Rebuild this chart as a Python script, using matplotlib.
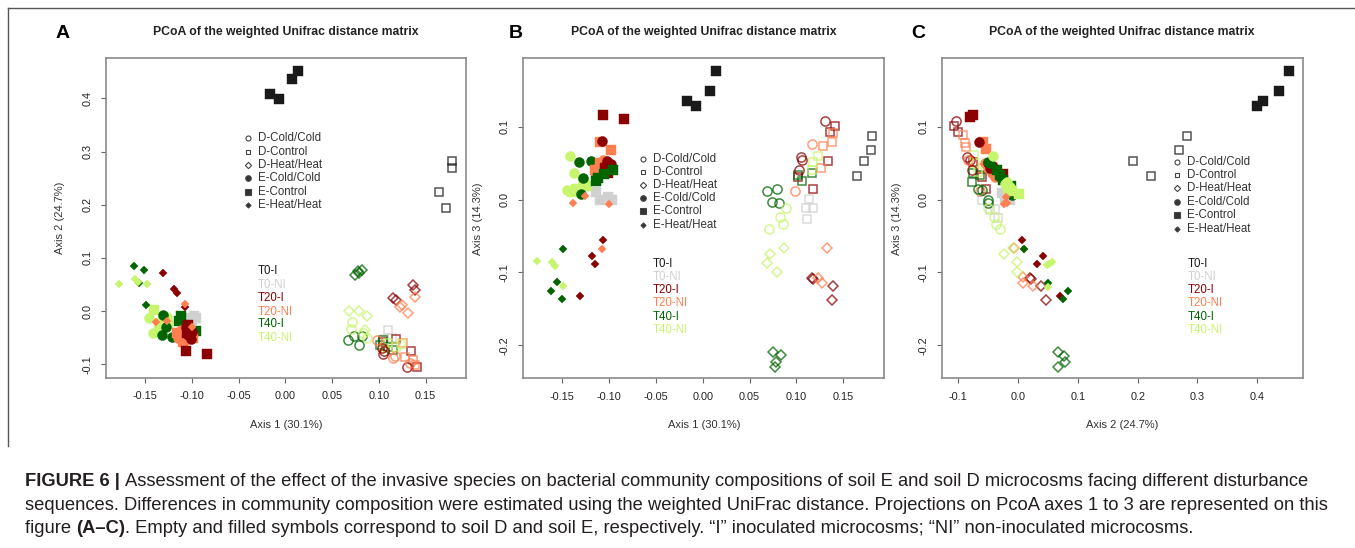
import matplotlib
matplotlib.use("Agg")
import matplotlib.pyplot as plt
from matplotlib.lines import Line2D
from matplotlib.ticker import FormatStrFormatter

W, H, DPI = 1355, 548, 100
plt.rcParams['font.family'] = ['Liberation Sans', 'DejaVu Sans']

# ---------------- categories ----------------
TIMES = ["T0-I", "T0-NI", "T20-I", "T20-NI", "T40-I", "T40-NI"]
TIME_COLORS = ["#1a1a1a", "#d0d0d0", "#8b0000", "#ff7f50", "#006400", "#c8f56e"]
TREATMENTS = ["D-Cold/Cold", "D-Control", "D-Heat/Heat", "E-Cold/Cold", "E-Control", "E-Heat/Heat"]
TITLE = "PCoA of the weighted Unifrac distance matrix"

# ---------------- data: (treatment, time, x values, y values) ----------------
# Panel A: Axis 1 vs Axis 2
PANEL_A = [
    ("D-Control", "T0-I", [0.1785, 0.1785, 0.164, 0.172], [0.282, 0.269, 0.223, 0.193]),
    ("D-Control", "T0-NI", [0.110, 0.106, 0.114, 0.103], [-0.035, -0.052, -0.050, -0.060]),
    ("D-Control", "T20-I", [0.118, 0.1344, 0.1404, 0.104], [-0.053, -0.075, -0.105, -0.058]),
    ("D-Control", "T20-NI", [0.126, 0.128, 0.1368, 0.1386], [-0.061, -0.086, -0.092, -0.102]),
    ("D-Control", "T40-I", [0.1012, 0.1154, 0.104, 0.110], [-0.064, -0.073, -0.055, -0.068]),
    ("D-Control", "T40-NI", [0.110, 0.118, 0.124, 0.106], [-0.060, -0.068, -0.062, -0.070]),
    ("D-Cold/Cold", "T20-I", [0.104, 0.1298, 0.103, 0.106], [-0.080, -0.105, -0.070, -0.075]),
    ("D-Cold/Cold", "T20-NI", [0.0977, 0.1154, 0.1333, 0.117], [-0.055, -0.089, -0.0985, -0.085]),
    ("D-Cold/Cold", "T40-I", [0.0674, 0.0734, 0.079, 0.0816], [-0.055, -0.047, -0.064, -0.047]),
    ("D-Cold/Cold", "T40-NI", [0.071, 0.070, 0.0834, 0.087], [-0.020, -0.033, -0.042, -0.050]),
    ("D-Heat/Heat", "T20-I", [0.1154, 0.1183, 0.137, 0.1386], [0.024, 0.021, 0.049, 0.040]),
    ("D-Heat/Heat", "T20-NI", [0.1244, 0.1315, 0.1386, 0.1226], [0.011, -0.004, 0.027, 0.007]),
    ("D-Heat/Heat", "T40-I", [0.0745, 0.079, 0.0815, 0.078], [0.068, 0.071, 0.078, 0.075]),
    ("D-Heat/Heat", "T40-NI", [0.0684, 0.0788, 0.087, 0.0852], [0.0006, 0.0006, -0.009, -0.036]),
    ("E-Control", "T0-I", [-0.0164, -0.0071, 0.0075, 0.0133], [0.408, 0.399, 0.437, 0.452]),
    ("E-Control", "T0-NI", [-0.0955, -0.105, -0.100, -0.098], [-0.013, -0.013, -0.017, -0.010]),
    ("E-Cold/Cold", "T40-NI", [-0.146, -0.136, -0.141, -0.127], [-0.014, -0.023, -0.041, -0.011]),
    ("E-Control", "T40-NI", [-0.140, -0.131, -0.125, -0.135], [0.001, -0.018, -0.025, -0.030]),
    ("E-Cold/Cold", "T40-I", [-0.1315, -0.1208, -0.1304, -0.128], [-0.045, -0.048, -0.0075, -0.030]),
    ("E-Control", "T40-I", [-0.1133, -0.0958, -0.112, -0.105], [-0.018, -0.037, -0.010, -0.030]),
    ("E-Cold/Cold", "T20-NI", [-0.1097, -0.115, -0.106, -0.112], [-0.042, -0.050, -0.055, -0.035]),
    ("E-Control", "T20-NI", [-0.116, -0.109, -0.0983, -0.110], [-0.042, -0.058, -0.051, -0.045]),
    ("E-Cold/Cold", "T20-I", [-0.101, -0.104, -0.106, -0.100], [-0.053, -0.045, -0.030, -0.040]),
    ("E-Control", "T20-I", [-0.1037, -0.1047, -0.1065, -0.084], [-0.026, -0.042, -0.075, -0.080]),
    ("E-Heat/Heat", "T20-I", [-0.131, -0.1186, -0.1158, -0.1072], [0.071, 0.041, 0.033, 0.007]),
    ("E-Heat/Heat", "T20-NI", [-0.1075, -0.126, -0.1385, -0.100], [0.013, -0.019, -0.020, -0.030]),
    ("E-Heat/Heat", "T40-I", [-0.1614, -0.1507, -0.156, -0.1489], [0.085, 0.077, 0.052, 0.011]),
    ("E-Heat/Heat", "T40-NI", [-0.1774, -0.1603, -0.1478, -0.158], [0.051, 0.060, 0.050, 0.055]),
]

# Panel B: Axis 1 vs Axis 3
PANEL_B = [
    ("D-Control", "T0-I", [0.1644, 0.1725, 0.1793, 0.1804], [0.033, 0.0528, 0.0683, 0.0875]),
    ("D-Control", "T0-NI", [0.1138, 0.1103, 0.118, 0.1117], [0.0005, -0.0118, -0.0118, -0.027]),
    ("D-Control", "T20-I", [0.1413, 0.1359, 0.1341, 0.118, 0.102], [0.1017, 0.0934, 0.0532, 0.0147, 0.0308]),
    ("D-Control", "T20-NI", [0.128, 0.1377, 0.1388, 0.1263], [0.0738, 0.0797, 0.0912, 0.0431]),
    ("D-Control", "T40-I", [0.1164, 0.102, 0.1057], [0.0363, 0.034, 0.026]),
    ("D-Control", "T40-NI", [0.1234, 0.1174, 0.1164], [0.0605, 0.0522, 0.0408]),
    ("D-Cold/Cold", "T20-I", [0.1306, 0.1046, 0.1057, 0.103], [0.108, 0.059, 0.0546, 0.0408]),
    ("D-Cold/Cold", "T20-NI", [0.1164, 0.0985], [0.0765, 0.012]),
    ("D-Cold/Cold", "T40-I", [0.0683, 0.079, 0.0737, 0.0818], [0.012, 0.0143, -0.0027, -0.005]),
    ("D-Cold/Cold", "T40-NI", [0.0889, 0.0825, 0.086, 0.0711], [-0.0118, -0.0233, -0.0334, -0.0407]),
    ("D-Heat/Heat", "T20-I", [0.1164, 0.118, 0.1394, 0.1384], [-0.108, -0.1094, -0.1182, -0.1378]),
    ("D-Heat/Heat", "T20-NI", [0.1324, 0.1234, 0.1277], [-0.0668, -0.1072, -0.1149]),
    ("D-Heat/Heat", "T40-I", [0.0747, 0.0833, 0.0783, 0.0772], [-0.2088, -0.2134, -0.2226, -0.2303]),
    ("D-Heat/Heat", "T40-NI", [0.0718, 0.0683, 0.079, 0.0871], [-0.0746, -0.0874, -0.0989, -0.0668]),
    ("E-Control", "T0-I", [-0.0164, -0.0072, 0.0078, 0.0139], [0.136, 0.1288, 0.149, 0.177]),
    ("E-Control", "T0-NI", [-0.1136, -0.110, -0.0965, -0.101], [0.011, 0.0, 0.0, 0.004]),
    ("E-Cold/Cold", "T40-NI", [-0.1417, -0.1374, -0.1452, -0.127], [0.060, 0.0363, 0.0133, 0.025]),
    ("E-Control", "T40-NI", [-0.1399, -0.1275, -0.1238, -0.135], [0.0102, 0.0225, 0.0192, 0.015]),
    ("E-Cold/Cold", "T40-I", [-0.1317, -0.1196, -0.1299, -0.128], [0.0522, 0.0532, 0.0074, 0.030]),
    ("E-Cold/Cold", "T20-NI", [-0.115, -0.1096, -0.106, -0.112], [0.0385, 0.049, 0.055, 0.045]),
    ("E-Control", "T20-NI", [-0.1093, -0.0982, -0.1153, -0.110], [0.0797, 0.0683, 0.0408, 0.050]),
    ("E-Cold/Cold", "T20-I", [-0.1078, -0.1025, -0.098, -0.104], [0.0806, 0.0532, 0.0486, 0.0467]),
    ("E-Control", "T20-I", [-0.1061, -0.084, -0.1046, -0.101], [0.1164, 0.1105, 0.0431, 0.0363]),
    ("E-Control", "T40-I", [-0.1136, -0.0961, -0.112, -0.105], [0.0261, 0.0408, 0.030, 0.035]),
    ("E-Heat/Heat", "T20-I", [-0.1068, -0.1185, -0.115, -0.131], [-0.0554, -0.0774, -0.0884, -0.1319]),
    ("E-Heat/Heat", "T20-NI", [-0.1075, -0.1385, -0.126, -0.100], [-0.0677, -0.005, 0.005, -0.006]),
    ("E-Heat/Heat", "T40-I", [-0.1488, -0.1559, -0.162, -0.1505], [-0.0677, -0.1135, -0.1254, -0.1369]),
    ("E-Heat/Heat", "T40-NI", [-0.1772, -0.1612, -0.1577, -0.1488], [-0.0842, -0.086, -0.0907, -0.1182]),
]

# Panel C: Axis 2 vs Axis 3
PANEL_C = [
    ("D-Control", "T0-I", [0.2832, 0.2698, 0.1929, 0.2219], [0.0875, 0.0683, 0.0532, 0.033]),
    ("D-Control", "T0-NI", [-0.0607, -0.0385, -0.033, -0.0468], [-0.0002, -0.0131, -0.0254, -0.0145]),
    ("D-Control", "T20-I", [-0.107, -0.0998, -0.0758, -0.0535, -0.0607], [0.1013, 0.0934, 0.0522, 0.0143, 0.0316]),
    ("D-Control", "T20-NI", [-0.0914, -0.0886, -0.087, -0.0607], [0.0889, 0.0775, 0.0728, 0.0431]),
    ("D-Control", "T40-I", [-0.0747, -0.0635, -0.0775], [0.0363, 0.034, 0.0248]),
    ("D-Control", "T40-NI", [-0.0736, -0.072, -0.0664], [0.0614, 0.0498, 0.0383]),
    ("D-Cold/Cold", "T20-I", [-0.1037, -0.0858, -0.0803, -0.0775], [0.1085, 0.059, 0.0546, 0.0408]),
    ("D-Cold/Cold", "T20-NI", [-0.0831, -0.0635], [0.0546, 0.012]),
    ("D-Cold/Cold", "T40-I", [-0.0664, -0.0496, -0.0496, -0.0607], [0.0142, -0.0002, -0.0048, 0.0133]),
    ("D-Cold/Cold", "T40-NI", [-0.0496, -0.0401, -0.0373, -0.0301], [-0.0118, -0.0233, -0.0334, -0.0407]),
    ("D-Heat/Heat", "T20-I", [0.0201, 0.0217, 0.038, 0.0468], [-0.1072, -0.1094, -0.1182, -0.1378]),
    ("D-Heat/Heat", "T20-NI", [-0.0062, 0.0078, 0.0089, 0.0245], [-0.0668, -0.1058, -0.1149, -0.1186]),
    ("D-Heat/Heat", "T40-I", [0.0674, 0.0769, 0.0786, 0.0674], [-0.2088, -0.2148, -0.2226, -0.2295]),
    ("D-Heat/Heat", "T40-NI", [-0.0234, -0.0011, -0.0011, -0.009], [-0.0746, -0.086, -0.0989, -0.0668]),
    ("E-Control", "T0-I", [0.4002, 0.4102, 0.437, 0.4532], [0.1288, 0.136, 0.149, 0.1768]),
    ("E-Control", "T0-NI", [-0.0273, -0.0134, -0.018, -0.022], [0.0096, 0.0, 0.004, 0.002]),
    ("E-Cold/Cold", "T20-NI", [-0.051, -0.044, -0.0552, -0.0385], [0.0429, 0.036, 0.0498, 0.0316]),
    ("E-Control", "T20-NI", [-0.058, -0.0535, -0.0385, -0.044], [0.0797, 0.0692, 0.0359, 0.045]),
    ("E-Cold/Cold", "T20-I", [-0.0652, -0.0496, -0.0423, -0.0468], [0.0797, 0.0498, 0.0452, 0.0429]),
    ("E-Control", "T20-I", [-0.0803, -0.0747, -0.044, -0.0251], [0.114, 0.116, 0.043, 0.0355]),
    ("E-Cold/Cold", "T40-I", [-0.051, -0.0468, -0.0106, -0.0301], [0.0522, 0.0508, 0.0064, 0.0316]),
    ("E-Control", "T40-I", [-0.0356, -0.0245, -0.030, -0.012], [0.0406, 0.027, 0.034, 0.018]),
    ("E-Cold/Cold", "T40-NI", [-0.0413, -0.0189, -0.0134, -0.022], [0.060, 0.0248, 0.0179, 0.021]),
    ("E-Control", "T40-NI", [0.0022, -0.0162, -0.010], [0.0078, 0.0165, 0.012]),
    ("E-Heat/Heat", "T20-I", [0.0072, 0.0413, 0.0313, 0.0702], [-0.0554, -0.0774, -0.0884, -0.1319]),
    ("E-Heat/Heat", "T20-NI", [-0.020, -0.0234, -0.018, 0.010], [0.004, -0.006, -0.005, -0.0677]),
    ("E-Heat/Heat", "T40-I", [0.0105, 0.0507, 0.0841, 0.0758], [-0.0677, -0.114, -0.1254, -0.1364]),
    ("E-Heat/Heat", "T40-NI", [0.048, 0.0563, 0.052, 0.0497], [-0.0897, -0.086, -0.088, -0.1195]),
]

# ---------------- styles ----------------
MARKER = {"Cold/Cold": "o", "Control": "s", "Heat/Heat": "D"}
SIZE_OPEN = {"o": 6.6, "s": 6.0, "D": 5.6}
SIZE_FILLED = {"o": 7.2, "s": 6.8, "D": 3.9}
COLOR = dict(zip(TIMES, TIME_COLORS))

fig = plt.figure(figsize=(W / DPI, H / DPI), dpi=DPI)


def fx(px):
    return px / W


def fy(py):
    return 1 - py / H


def draw_points(ax, panel):
    for treat, time, xs, ys in panel:
        soil, trt = treat.split("-", 1)
        m = MARKER[trt]
        c = COLOR[time]
        if soil == "D":
            ax.plot(xs, ys, linestyle="none", marker=m, markersize=SIZE_OPEN[m],
                    markerfacecolor="none", markeredgecolor=c, markeredgewidth=1.1,
                    alpha=0.75, zorder=2)
        else:
            ax.plot(xs, ys, linestyle="none", marker=m, markersize=SIZE_FILLED[m],
                    markerfacecolor=c, markeredgecolor=c, markeredgewidth=0.3, zorder=3)


def style_axes(ax, xlim, ylim, xticks, yticks, xfmt, yfmt):
    ax.set_xlim(*xlim)
    ax.set_ylim(*ylim)
    ax.set_xticks(xticks)
    ax.set_yticks(yticks)
    ax.xaxis.set_major_formatter(FormatStrFormatter(xfmt))
    ax.yaxis.set_major_formatter(FormatStrFormatter(yfmt))
    for s in ax.spines.values():
        s.set_color("#8a8a8a")
        s.set_linewidth(1.2)
    ax.tick_params(direction="out", length=3.6, width=0.8, color="#666666",
                   labelsize=7.8, labelcolor="#222222", pad=6)
    ax.tick_params(axis="y", labelrotation=90)
    for lab in ax.get_yticklabels():
        lab.set_va("center")


def legends(sx, tx, shape_rows, time_rows):
    shape_style = [("o", "none", 3.6), ("s", "none", 3.4), ("D", "none", 3.2),
                   ("o", "#333333", 4.0), ("s", "#333333", 3.8), ("D", "#333333", 2.6)]
    for (m, fc, ms), name, ry in zip(shape_style, TREATMENTS, shape_rows):
        fig.add_artist(Line2D([fx(sx)], [fy(ry)], transform=fig.transFigure, marker=m,
                              markersize=ms, markerfacecolor=fc, markeredgecolor="#444444",
                              markeredgewidth=0.8, linestyle="none"))
        fig.text(fx(tx), fy(ry), name, fontsize=8.3, color="#333333", ha="left", va="center")
    for name, col, ry in zip(TIMES, TIME_COLORS, time_rows):
        fig.text(fx(tx), fy(ry), name, fontsize=8.3, color=col, ha="left", va="center")


# axes boxes in pixels: left, top, right, bottom
BOXES = [(106, 58, 466, 378), (523.3, 58.3, 884.3, 378.3), (941.7, 58.3, 1302.7, 378.3)]
axes = []
for (l, t, r, b) in BOXES:
    axes.append(fig.add_axes([fx(l), fy(b), (r - l) / W, (b - t) / H]))

axA, axB, axC = axes
draw_points(axA, PANEL_A)
draw_points(axB, PANEL_B)
draw_points(axC, PANEL_C)

style_axes(axA, (-0.1917, 0.1932), (-0.126, 0.476),
           [-0.15, -0.10, -0.05, 0.0, 0.05, 0.10, 0.15], [-0.1, 0.0, 0.1, 0.2, 0.3, 0.4], "%.2f", "%.1f")
style_axes(axB, (-0.1915, 0.1939), (-0.2454, 0.194),
           [-0.15, -0.10, -0.05, 0.0, 0.05, 0.10, 0.15], [-0.2, -0.1, 0.0, 0.1], "%.2f", "%.1f")
style_axes(axC, (-0.1276, 0.476), (-0.2454, 0.194),
           [-0.1, 0.0, 0.1, 0.2, 0.3, 0.4], [-0.2, -0.1, 0.0, 0.1], "%.1f", "%.1f")

# titles, panel letters, axis labels
for (l, t, r, b), letter, lx, xlab, ylab, ylx in zip(
        BOXES, ["A", "B", "C"], [63, 516, 918],
        ["Axis 1 (30.1%)", "Axis 1 (30.1%)", "Axis 2 (24.7%)"],
        ["Axis 2 (24.7%)", "Axis 3 (14.3%)", "Axis 3 (14.3%)"], [60, 478, 897]):
    cx = (l + r) / 2
    fig.text(fx(cx), fy(32), TITLE, fontsize=8.8, fontweight="bold", color="#222222",
             ha="center", va="center")
    fig.text(fx(lx), fy(33), letter, fontsize=14, fontweight="bold", color="black",
             ha="center", va="center")
    fig.text(fx(cx), fy(425), xlab, fontsize=8.0, color="#333333", ha="center", va="center")
    fig.text(fx(ylx), fy((t + b) / 2), ylab, fontsize=8.0, color="#333333", ha="center",
             va="center", rotation=90)

legends(248, 258, [138.3, 152.3, 165.3, 178.3, 192, 205], [271, 285, 297.7, 311.7, 324.3, 337.7])
legends(642.7, 652.7, [158.7, 171.7, 184.7, 198.3, 211.3, 225], [263.7, 277, 290.3, 303.3, 316.7, 330])
legends(1177.3, 1187.3, [162.3, 175.3, 188.3, 202, 215, 228.7], [263.7, 277, 290.3, 303.3, 316.7, 330])

# outer frame lines
fig.add_artist(Line2D([fx(8), 1.0], [fy(8), fy(8)], transform=fig.transFigure, color="#555555", lw=1.0))
fig.add_artist(Line2D([fx(8), fx(8)], [fy(8), fy(446)], transform=fig.transFigure, color="#555555", lw=1.0))

# caption
CAPTION = [
    [("FIGURE 6 | ", "bold"), ("Assessment of the effect of the invasive species on bacterial community compositions of soil E and soil D microcosms facing different disturbance", "normal")],
    [("sequences. Differences in community composition were estimated using the weighted UniFrac distance. Projections on PcoA axes 1 to 3 are represented on this", "normal")],
    [("figure ", "normal"), ("(A\u2013C)", "bold"), (". Empty and filled symbols correspond to soil D and soil E, respectively. \u201cI\u201d inoculated microcosms; \u201cNI\u201d non-inoculated microcosms.", "normal")],
]
renderer = fig.canvas.get_renderer()
cap_size = 13.2
for line, base in zip(CAPTION, [486, 510, 533]):
    x = 25
    for txt, wgt in line:
        t = fig.text(fx(x), fy(base), txt, fontsize=cap_size, fontweight=wgt, color="#231f20",
                     ha="left", va="baseline")
        x += t.get_window_extent(renderer).width

fig.savefig("out.png", dpi=DPI)
